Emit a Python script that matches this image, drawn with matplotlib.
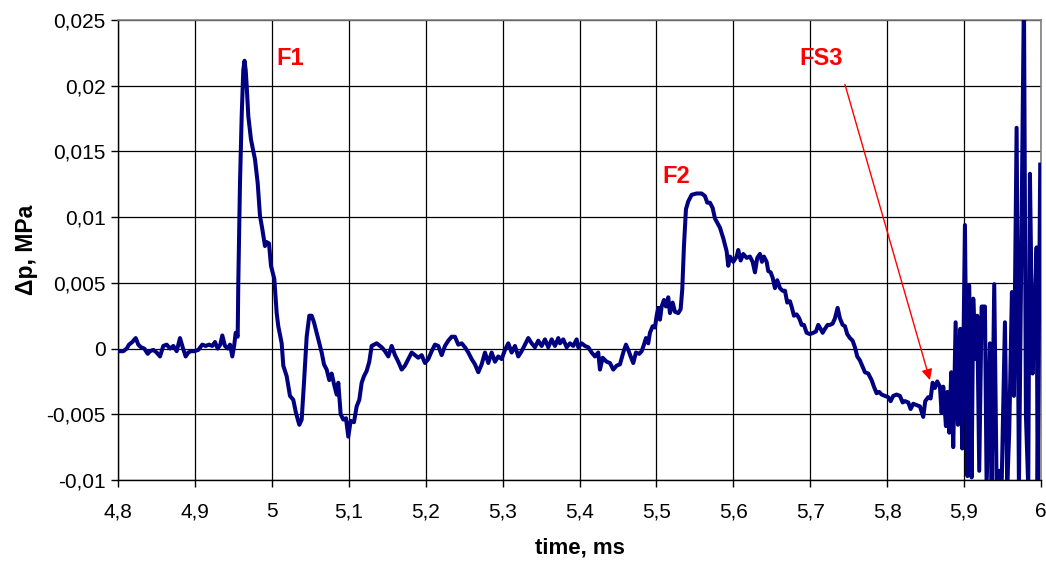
import matplotlib
matplotlib.use("Agg")
import matplotlib.pyplot as plt
from matplotlib import font_manager

names = {f.name for f in font_manager.fontManager.ttflist}
FONT = "Liberation Sans" if "Liberation Sans" in names else "DejaVu Sans"
plt.rcParams['font.family'] = [FONT, 'DejaVu Sans']

# ---- data ----
time_ms = [
    4.8000, 4.8069, 4.8113, 4.8143, 4.8186, 4.8230, 4.8264, 4.8299, 4.8342, 4.8386,
    4.8416, 4.8459, 4.8503, 4.8546, 4.8589, 4.8633, 4.8676, 4.8719, 4.8763, 4.8806,
    4.8841, 4.8880, 4.8914, 4.8949, 4.8992, 4.9044, 4.9096, 4.9140, 4.9183, 4.9226,
    4.9261, 4.9296, 4.9330, 4.9356, 4.9391, 4.9426, 4.9456, 4.9486, 4.9512, 4.9530,
    4.9556, 4.9564, 4.9586, 4.9608, 4.9629, 4.9645, 4.9660, 4.9673, 4.9694, 4.9729,
    4.9781, 4.9816, 4.9846, 4.9876, 4.9911, 4.9933, 4.9963, 4.9989, 5.0032, 5.0063,
    5.0084, 5.0128, 5.0149, 5.0193, 5.0236, 5.0279, 5.0314, 5.0357, 5.0388, 5.0418,
    5.0453, 5.0487, 5.0518, 5.0548, 5.0583, 5.0617, 5.0648, 5.0678, 5.0713, 5.0747,
    5.0778, 5.0808, 5.0843, 5.0864, 5.0895, 5.0929, 5.0964, 5.0994, 5.1025, 5.1068,
    5.1103, 5.1137, 5.1168, 5.1198, 5.1233, 5.1267, 5.1298, 5.1363, 5.1428, 5.1471,
    5.1514, 5.1558, 5.1601, 5.1644, 5.1688, 5.1731, 5.1774, 5.1818, 5.1861, 5.1904,
    5.1948, 5.1991, 5.2034, 5.2078, 5.2121, 5.2164, 5.2208, 5.2251, 5.2294, 5.2338,
    5.2381, 5.2424, 5.2468, 5.2511, 5.2554, 5.2598, 5.2641, 5.2684, 5.2728, 5.2771,
    5.2814, 5.2858, 5.2901, 5.2944, 5.2988, 5.3031, 5.3074, 5.3118, 5.3161, 5.3204,
    5.3248, 5.3291, 5.3334, 5.3378, 5.3421, 5.3464, 5.3508, 5.3551, 5.3594, 5.3638,
    5.3681, 5.3724, 5.3746, 5.3789, 5.3833, 5.3876, 5.3919, 5.3963, 5.3984, 5.4028,
    5.4071, 5.4114, 5.4158, 5.4201, 5.4244, 5.4266, 5.4301, 5.4353, 5.4396, 5.4439,
    5.4483, 5.4526, 5.4569, 5.4604, 5.4634, 5.4665, 5.4699, 5.4734, 5.4777, 5.4808,
    5.4838, 5.4864, 5.4894, 5.4916, 5.4951, 5.4981, 5.5003, 5.5024, 5.5046, 5.5068,
    5.5098, 5.5124, 5.5154, 5.5176, 5.5211, 5.5241, 5.5284, 5.5315, 5.5336, 5.5358,
    5.5384, 5.5414, 5.5458, 5.5523, 5.5588, 5.5631, 5.5661, 5.5696, 5.5731, 5.5761,
    5.5826, 5.5869, 5.5913, 5.5934, 5.5956, 5.5999, 5.6043, 5.6064, 5.6095, 5.6129,
    5.6173, 5.6216, 5.6251, 5.6281, 5.6311, 5.6346, 5.6372, 5.6398, 5.6433, 5.6454,
    5.6485, 5.6511, 5.6541, 5.6571, 5.6606, 5.6641, 5.6671, 5.6701, 5.6736, 5.6762,
    5.6788, 5.6823, 5.6857, 5.6888, 5.6918, 5.6953, 5.6996, 5.7039, 5.7074, 5.7104,
    5.7135, 5.7161, 5.7191, 5.7226, 5.7256, 5.7291, 5.7321, 5.7356, 5.7386, 5.7421,
    5.7451, 5.7481, 5.7516, 5.7551, 5.7581, 5.7611, 5.7646, 5.7711, 5.7754, 5.7798,
    5.7828, 5.7863, 5.7897, 5.7928, 5.7971, 5.8014, 5.8045, 5.8079, 5.8123, 5.8166,
    5.8201, 5.8231, 5.8274, 5.8305, 5.8339, 5.8383, 5.8426, 5.8469, 5.8495, 5.8534,
    5.8565, 5.8591, 5.8621, 5.8651, 5.8686, 5.8708, 5.8729, 5.8764, 5.8781, 5.8807,
    5.8833, 5.8859, 5.8890, 5.8920, 5.8950, 5.8976, 5.9011, 5.9044, 5.9067, 5.9098,
    5.9119, 5.9148, 5.9171, 5.9197, 5.9228, 5.9271, 5.9293, 5.9336, 5.9358, 5.9392,
    5.9423, 5.9457, 5.9488, 5.9531, 5.9561, 5.9587, 5.9622, 5.9648, 5.9683, 5.9713,
    5.9748, 5.9778, 5.9804, 5.9834, 5.9856, 5.9891, 5.9921, 5.9943, 5.9956, 5.9990,
]
dp_mpa = [
    -0.0002, -0.0002, 0.0000, 0.0003, 0.0005, 0.0008, 0.0003, 0.0001, 0.0000, -0.0004,
    -0.0002, -0.0001, -0.0003, -0.0006, 0.0002, 0.0003, 0.0000, 0.0002, -0.0002, 0.0008,
    0.0001, -0.0006, -0.0003, -0.0002, -0.0002, -0.0001, 0.0003, 0.0002, 0.0003, 0.0002,
    0.0005, 0.0000, 0.0003, 0.0010, 0.0002, 0.0000, 0.0003, -0.0006, 0.0003, 0.0012,
    0.0009, 0.0050, 0.0126, 0.0177, 0.0212, 0.0219, 0.0212, 0.0200, 0.0177, 0.0159,
    0.0144, 0.0126, 0.0101, 0.0091, 0.0078, 0.0081, 0.0080, 0.0063, 0.0053, 0.0027,
    0.0017, 0.0004, -0.0013, -0.0021, -0.0036, -0.0039, -0.0049, -0.0058, -0.0054, -0.0026,
    0.0009, 0.0025, 0.0025, 0.0020, 0.0012, 0.0004, -0.0003, -0.0012, -0.0016, -0.0024,
    -0.0019, -0.0027, -0.0035, -0.0026, -0.0050, -0.0054, -0.0053, -0.0067, -0.0055, -0.0056,
    -0.0044, -0.0039, -0.0026, -0.0021, -0.0017, -0.0010, 0.0002, 0.0004, 0.0001, -0.0002,
    -0.0006, 0.0002, -0.0005, -0.0010, -0.0016, -0.0013, -0.0008, -0.0003, -0.0005, -0.0007,
    -0.0005, -0.0011, -0.0008, -0.0002, 0.0003, 0.0002, -0.0005, 0.0002, 0.0006, 0.0009,
    0.0009, 0.0003, 0.0004, 0.0001, -0.0003, -0.0008, -0.0012, -0.0018, -0.0012, -0.0003,
    -0.0011, -0.0003, -0.0010, -0.0006, -0.0008, -0.0001, 0.0004, -0.0003, 0.0002, -0.0006,
    -0.0002, 0.0003, 0.0008, 0.0004, 0.0001, 0.0006, 0.0002, 0.0007, 0.0001, 0.0007,
    0.0002, 0.0008, 0.0004, 0.0007, 0.0001, 0.0004, 0.0002, 0.0007, 0.0001, 0.0004,
    0.0002, 0.0001, -0.0003, -0.0006, -0.0003, -0.0016, -0.0007, -0.0010, -0.0011, -0.0016,
    -0.0013, -0.0012, -0.0003, 0.0003, -0.0001, -0.0006, -0.0011, -0.0003, -0.0004, -0.0002,
    0.0003, 0.0008, 0.0004, 0.0012, 0.0017, 0.0016, 0.0025, 0.0031, 0.0022, 0.0032,
    0.0037, 0.0032, 0.0039, 0.0027, 0.0035, 0.0028, 0.0027, 0.0030, 0.0045, 0.0078,
    0.0106, 0.0112, 0.0117, 0.0118, 0.0118, 0.0116, 0.0111, 0.0111, 0.0107, 0.0099,
    0.0092, 0.0084, 0.0074, 0.0063, 0.0070, 0.0066, 0.0070, 0.0075, 0.0067, 0.0072,
    0.0069, 0.0070, 0.0066, 0.0058, 0.0069, 0.0072, 0.0066, 0.0070, 0.0066, 0.0059,
    0.0058, 0.0054, 0.0046, 0.0052, 0.0046, 0.0044, 0.0044, 0.0035, 0.0036, 0.0031,
    0.0025, 0.0026, 0.0023, 0.0018, 0.0018, 0.0012, 0.0011, 0.0012, 0.0013, 0.0018,
    0.0015, 0.0012, 0.0015, 0.0018, 0.0018, 0.0019, 0.0023, 0.0031, 0.0023, 0.0018,
    0.0017, 0.0011, 0.0008, 0.0006, 0.0001, -0.0006, -0.0009, -0.0018, -0.0019, -0.0024,
    -0.0029, -0.0034, -0.0033, -0.0035, -0.0036, -0.0037, -0.0040, -0.0036, -0.0035, -0.0036,
    -0.0041, -0.0040, -0.0041, -0.0046, -0.0042, -0.0043, -0.0044, -0.0052, -0.0040, -0.0037,
    -0.0038, -0.0026, -0.0030, -0.0025, -0.0029, -0.0049, -0.0029, -0.0059, -0.0033, -0.0064,
    -0.0018, -0.0075, 0.0020, -0.0058, 0.0015, -0.0076, 0.0094, -0.0097, 0.0048, -0.0098,
    0.0038, -0.0008, 0.0025, -0.0093, 0.0032, 0.0032, -0.0105, 0.0004, -0.0105, 0.0049,
    -0.0105, -0.0093, -0.0105, 0.0020, -0.0105, -0.0063, 0.0043, -0.0036, 0.0168, -0.0105,
    0.0094, 0.0270, -0.0051, -0.0105, 0.0133, -0.0019, 0.0033, 0.0077, -0.0105, 0.0140,
]

x_ticks = [4.8, 4.9, 5.0, 5.1, 5.2, 5.3, 5.4, 5.5, 5.6, 5.7, 5.8, 5.9, 6.0]
x_tick_labels = ["4,8", "4,9", "5", "5,1", "5,2", "5,3", "5,4", "5,5", "5,6", "5,7", "5,8", "5,9", "6"]
y_ticks = [-0.01, -0.005, 0.0, 0.005, 0.01, 0.015, 0.02, 0.025]
y_tick_labels = ["-0,01", "-0,005", "0", "0,005", "0,01", "0,015", "0,02", "0,025"]

annotations = [("F1", 5.0236, 0.0221), ("F2", 5.5254, 0.0131), ("FS3", 5.7139, 0.0221)]
arrow_start = (5.7451, 0.0201)
arrow_end = (5.8556, -0.0024)

# ---- figure ----
fig = plt.figure(figsize=(10.46, 5.62), dpi=100)
ax = fig.add_axes([118 / 1046, 1 - 480 / 562, (1041 - 118) / 1046, (480 - 20) / 562])

ax.plot(time_ms, dp_mpa, color="#000080", lw=2.9, solid_joinstyle="round", zorder=3)

ax.set_xlim(4.8, 6.0)
ax.set_ylim(-0.01, 0.025)
ax.set_xticks(x_ticks)
ax.set_xticklabels(x_tick_labels)
ax.set_yticks(y_ticks)
ax.set_yticklabels(y_tick_labels)
ax.grid(True, color="#000000", lw=0.9, zorder=1)
ax.set_axisbelow(True)

ax.tick_params(axis="both", labelsize=15, length=5, width=1, color="black", direction="out")
ax.tick_params(axis="x", pad=11)
ax.tick_params(axis="y", pad=4)

for s in ("top", "right"):
    ax.spines[s].set_color("#808080")
    ax.spines[s].set_linewidth(1.2)
for s in ("left", "bottom"):
    ax.spines[s].set_color("#000000")
    ax.spines[s].set_linewidth(1.0)

ax.set_xlabel("time, ms", fontsize=16, fontweight="bold", labelpad=12)
ax.set_ylabel("Δp, MPa", fontsize=16.5, fontweight="bold", labelpad=6)

for label, tx, ty in annotations:
    ax.text(tx, ty, label, color="#ff0000", fontsize=17, fontweight="bold",
            ha="center", va="center", zorder=5)

ax.annotate("", xy=arrow_end, xytext=arrow_start,
            arrowprops=dict(arrowstyle="-|>", color="#ff0000", lw=1.0,
                            mutation_scale=16, shrinkA=0, shrinkB=0), zorder=5)

fig.savefig("out.png", dpi=100)
